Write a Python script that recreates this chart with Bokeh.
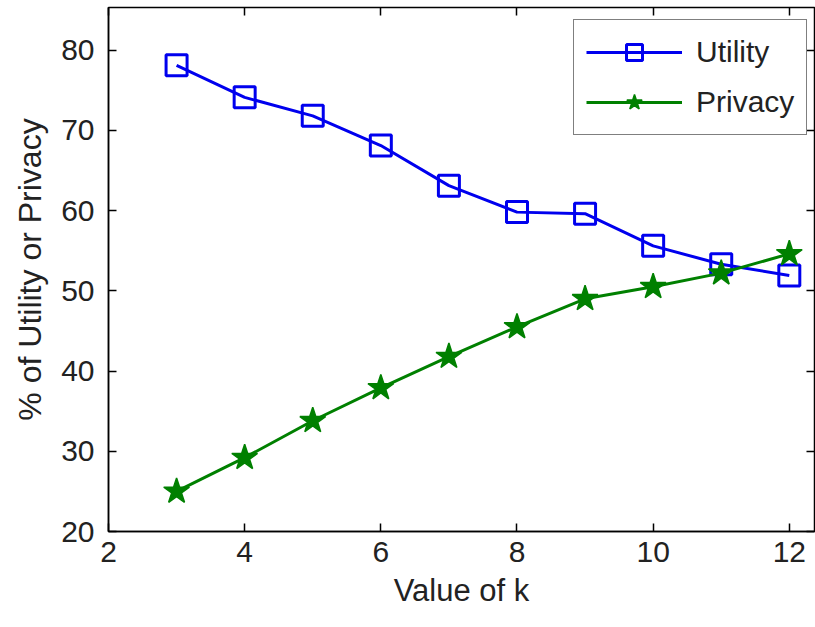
from bokeh.plotting import figure
from bokeh.models import LinearAxis, FixedTicker, Range1d, Legend, LegendItem
from bokeh.embed import file_html
from bokeh.resources import INLINE

k_values = [3, 4, 5, 6, 7, 8, 9, 10, 11, 12]
utility = [78.1, 74.1, 71.8, 68.1, 63.1, 59.8, 59.6, 55.6, 53.3, 51.9]
privacy = [25.0, 29.2, 33.8, 37.9, 41.8, 45.5, 49.0, 50.5, 52.2, 54.6]
x_ticks = [2, 4, 6, 8, 10, 12]
y_ticks = [20, 30, 40, 50, 60, 70, 80]

FONT = "Liberation Sans"
BLUE = "#0000ee"
GREEN = "#008000"

p = figure(width=815, height=627, output_backend="svg", toolbar_location=None,
           x_range=Range1d(2, 12.37), y_range=Range1d(20, 85.3),
           min_border_left=108, min_border_top=7, min_border_bottom=96, min_border_right=1)
p.background_fill_color = "white"
p.border_fill_color = "white"
p.outline_line_color = "black"
p.outline_line_width = 1.5
p.xgrid.visible = False
p.ygrid.visible = False

for ax, ticks in ((p.xaxis[0], x_ticks), (p.yaxis[0], y_ticks)):
    ax.ticker = FixedTicker(ticks=ticks)
    ax.major_tick_in = 8
    ax.major_tick_out = 0
    ax.minor_tick_line_color = None
    ax.axis_line_color = "black"
    ax.axis_line_width = 1.5
    ax.major_tick_line_width = 1.5
    ax.major_label_text_font = FONT
    ax.major_label_text_font_size = "30px"
    ax.major_label_text_color = "#222222"
    ax.axis_label_text_font = FONT
    ax.axis_label_text_font_size = "31px"
    ax.axis_label_text_font_style = "normal"
    ax.axis_label_text_color = "#222222"

p.xaxis.axis_label = "Value of k"
p.yaxis.axis_label = "% of Utility or Privacy"
p.yaxis.axis_label_text_font_size = "32px"
p.xaxis.major_label_standoff = 10
p.yaxis.major_label_standoff = 14
p.xaxis.axis_label_standoff = 8
p.yaxis.axis_label_standoff = 10

top = LinearAxis(ticker=FixedTicker(ticks=x_ticks), major_tick_in=8, major_tick_out=0,
                 minor_tick_line_color=None, axis_line_color=None,
                 major_label_overrides={t: "" for t in x_ticks}, major_tick_line_width=1.5)
right = LinearAxis(ticker=FixedTicker(ticks=y_ticks), major_tick_in=8, major_tick_out=0,
                   minor_tick_line_color=None, axis_line_color=None,
                   major_label_overrides={t: "" for t in y_ticks}, major_tick_line_width=1.5)
p.add_layout(top, "above")
p.add_layout(right, "right")

lu = p.line(k_values, utility, line_color=BLUE, line_width=3)
su = p.scatter(k_values, utility, marker="square", size=21, line_color=BLUE,
               line_width=3, fill_color=None)
lp = p.line(k_values, privacy, line_color=GREEN, line_width=3)
sp = p.scatter(k_values, privacy, marker="star", size=27, line_color=GREEN,
               line_width=1.5, fill_color=GREEN)

legend = Legend(items=[LegendItem(label="Utility", renderers=[lu, su]),
                       LegendItem(label="Privacy", renderers=[lp, sp])],
                location=(465, 396))
legend.label_text_font = FONT
legend.label_text_font_size = "30px"
legend.label_text_color = "#222222"
legend.glyph_width = 96
legend.glyph_height = 40
legend.label_standoff = 14
legend.padding = 12
legend.spacing = 10
legend.border_line_color = "black"
legend.border_line_width = 1.5
legend.background_fill_alpha = 1
legend.margin = 0
p.add_layout(legend, "center")

open("out.html", "w").write(file_html(p, INLINE))
